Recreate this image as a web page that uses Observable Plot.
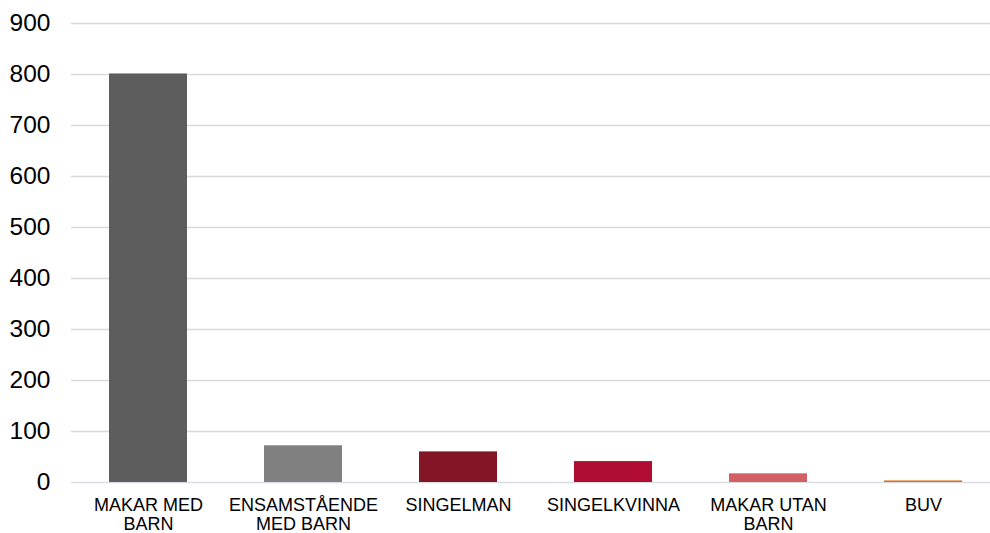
<!DOCTYPE html>
<html>
<head>
<meta charset="utf-8">
<script src="https://cdn.jsdelivr.net/npm/d3@7"></script>
<script src="https://cdn.jsdelivr.net/npm/@observablehq/plot@0.6"></script>
<style>
  html, body { margin: 0; padding: 0; background: #fff; }
  #chart { width: 990px; height: 533px; }
</style>
</head>
<body>
<div id="chart"></div>
<script>
const categories = ["MAKAR MED\nBARN", "ENSAMSTÅENDE\nMED BARN", "SINGELMAN", "SINGELKVINNA", "MAKAR UTAN\nBARN", "BUV"];
const values = [801, 72, 60, 41, 17, 3];
const colors = ["#5d5d5d", "#808080", "#831526", "#b00b32", "#d15f63", "#e36c0a"];
const yTicks = [0, 100, 200, 300, 400, 500, 600, 700, 800, 900];

const data = categories.map((c, i) => ({category: c, value: values[i], color: colors[i]}));

const chart = Plot.plot({
  width: 990,
  height: 533,
  marginLeft: 71,
  marginRight: 0,
  marginTop: 23,
  marginBottom: 51,
  style: {fontFamily: "'Liberation Sans', Arial, sans-serif", color: "#000", background: "#fff", overflow: "visible"},
  x: {domain: categories, range: [68, 1003], paddingInner: 0.496, paddingOuter: 0.252, label: null},
  y: {domain: [0, 900], label: null},
  marks: [
    Plot.ruleY(yTicks.filter(d => d > 0), {stroke: "#d9d9d9", strokeWidth: 1.5}),
    Plot.ruleY([0], {stroke: "#d9dde3", strokeWidth: 1.5}),
    Plot.barY(data, {x: "category", y: "value", fill: "color"}),
    Plot.axisY({ticks: yTicks, tickSize: 0, tickPadding: 21, fontSize: 24.5, label: null, tickFormat: d => String(d)}),
    Plot.axisX({tickSize: 0, tickPadding: 15, fontSize: 18, lineHeight: 1.05, label: null})
  ]
});
document.getElementById("chart").appendChild(chart);
</script>
</body>
</html>
